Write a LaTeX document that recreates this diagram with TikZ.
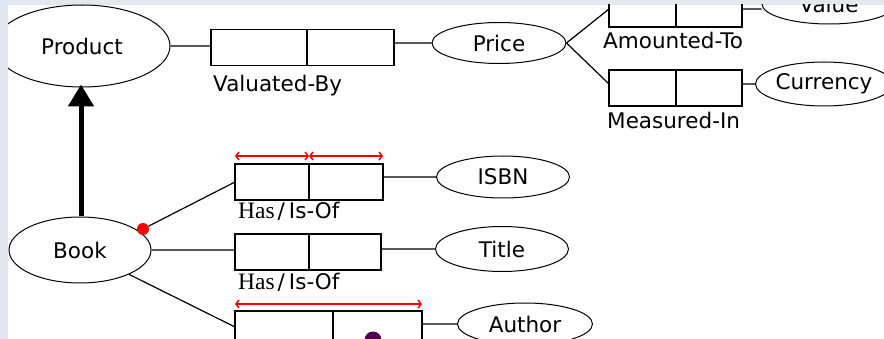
\documentclass[tikz,border=0pt]{standalone}
\usepackage{fontspec}
\setmainfont{DejaVu Sans}
\newfontfamily\hasfont{Liberation Serif}
\usetikzlibrary{positioning,shapes.geometric,arrows.meta}
\definecolor{framebg}{RGB}{224,232,242}
\definecolor{dotpurple}{RGB}{80,0,80}
\tikzset{ent node/.style={ellipse,draw,line width=1pt,inner sep=0pt,font=\fontsize{21.5}{24}\selectfont},
         role node/.style={rectangle,draw,line width=1.5pt,minimum height=36pt,inner sep=0pt,outer sep=0pt},
         role label/.style={inner sep=0pt,font=\fontsize{21.5}{24}\selectfont},
         link/.style={line width=1.2pt},
         span/.style={red,line width=1.5pt,{Straight Barb[length=3pt,width=8pt]}-{Straight Barb[length=3pt,width=8pt]}},
         isa/.style={line width=5pt,-{Triangle[length=22pt,width=25pt]}},
            }
\begin{document}
\begin{tikzpicture}[x=1pt,y=-1pt]
    \useasboundingbox (0,0) rectangle (884,339);
    \fill[framebg] (0,0) rectangle (884,339);
    \fill[white] (8,5) rectangle (884,339);
    \begin{scope}
    \clip (8,5) rectangle (884,339);

    \node[ent node,minimum width=176pt,minimum height=82pt] (product) at (82,46) {Product};
    \node[ent node,minimum width=142pt,minimum height=66pt] (book) at (80,250) {Book};
    \node[ent node,minimum width=134pt,minimum height=41pt] (price) at (499,43) {Price};
    \node[ent node,minimum width=134pt,minimum height=40pt] (value) at (829,4) {Value};
    \node[ent node,minimum width=120pt,minimum height=44pt] (currency) at (824,84) {Currency};
    \node[ent node,minimum width=133pt,minimum height=42pt] (isbn) at (503,177) {ISBN};
    \node[ent node,minimum width=133pt,minimum height=45pt] (title) at (502,249) {Title};
    \node[ent node,minimum width=135pt,minimum height=42pt] (author) at (525,324) {Author};

    \node[role node,minimum width=96pt] (vb1) at (259,47.5) {};
    \node[role node,minimum width=87pt] (vb2) [right=0pt of vb1] {};
    \node[role node,minimum width=67pt] (am1) at (642.5,9) {};
    \node[role node,minimum width=66pt] (am2) [right=0pt of am1] {};
    \node[role node,minimum width=67pt] (mi1) at (642.5,88) {};
    \node[role node,minimum width=66pt] (mi2) [right=0pt of mi1] {};
    \node[role node,minimum width=74pt] (hb1) at (272,182) {};
    \node[role node,minimum width=74pt] (hb2) [right=0pt of hb1] {};
    \node[role node,minimum width=74pt] (tb1) at (272,252) {};
    \node[role node,minimum width=72pt] (tb2) [right=0pt of tb1] {};
    \node[role node,minimum width=98pt] (ab1) at (284,329) {};
    \node[role node,minimum width=89pt] (ab2) [right=0pt of ab1] {};

    \node[role label] (vblabel) [below right=9pt and 2pt of vb1.south west] {Valuated-By};
    \node[role label] (amlabel) [below right=5pt and -6pt of am1.south west] {Amounted-To};
    \node[role label] (milabel) [below right=6pt and -2pt of mi1.south west] {Measured-In};
    \node[role label] (hblabel) [below right=2pt and 3pt of hb1.south west] {{\hasfont\fontsize{23.5}{24}\selectfont Has}\kern3pt/\kern4pt Is-Of};
    \node[role label] (tblabel) [below right=3pt and 3pt of tb1.south west] {{\hasfont\fontsize{23.5}{24}\selectfont Has}\kern3pt/\kern4pt Is-Of};

    \node[circle,fill=red,inner sep=0pt,minimum size=12pt] (reddot) at (143,229) {};
    \node[circle,fill=dotpurple,inner sep=0pt,minimum size=17pt] (purpledot) at (373,340) {};

    \draw[isa,shorten >=-3pt] (book.north -| 81,0) -- (product.south -| 81,0);

    \draw[link] (product.east) -- (product.east -| vb1.west)
                (price.west -| vb2.east) -- (price.west)
                (price.east) -- (am1.west)
                (price.east) -- ([yshift=4pt]mi1.west)
                (am2.east) -- (am2.east -| value.west)
                ([yshift=4pt]mi2.east) -- (currency.west)
                (reddot) -- (hb1.west)
                (book.east) -- (book.east -| tb1.west)
                (book) -- ([yshift=2pt]ab1.west)
                (isbn.west -| hb2.east) -- (isbn.west)
                (title.west -| tb2.east) -- (title.west)
                (author.west -| ab2.east) -- (author.west);

    \draw[span] ([yshift=8pt]hb1.north west) -- ([yshift=8pt]hb1.north east);
    \draw[span] ([yshift=8pt]hb2.north west) -- ([yshift=8pt]hb2.north east);
    \draw[span] ([yshift=7pt]ab1.north west) -- ([yshift=7pt]ab2.north east);
    \end{scope}
\end{tikzpicture}
\end{document}
